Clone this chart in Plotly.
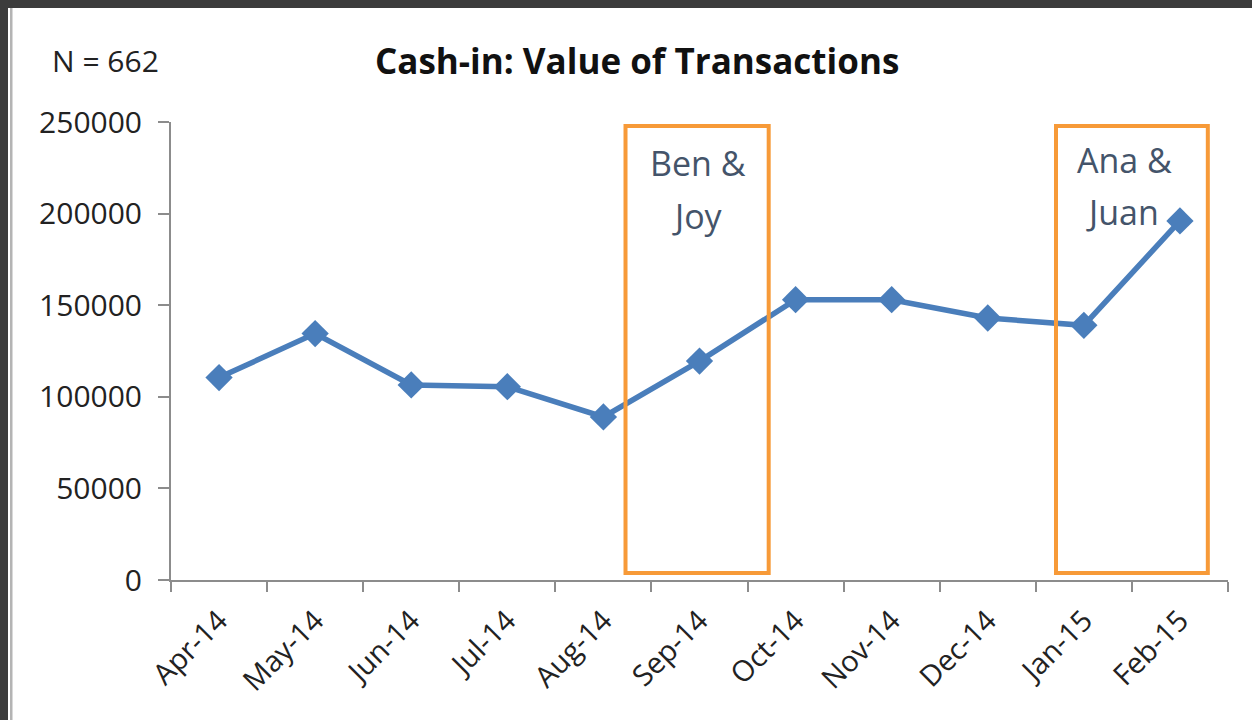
import plotly.graph_objects as go

months = ["Apr-14", "May-14", "Jun-14", "Jul-14", "Aug-14", "Sep-14",
          "Oct-14", "Nov-14", "Dec-14", "Jan-15", "Feb-15"]
values = [110500, 134500, 106500, 105500, 89000, 119500,
          153000, 153000, 143000, 139000, 196000]
y_ticks = [0, 50000, 100000, 150000, 200000, 250000]

W, H = 1252, 720
L, R, T, B = 171, 24, 122, 140
pw, ph = W - L - R, H - T - B

def px(x):
    return (x - L) / pw

def py(y):
    return (H - B - y) / ph

fig = go.Figure()
fig.add_trace(go.Scatter(
    x=months, y=values, mode="lines+markers",
    line=dict(color="#4A7EBB", width=5.5),
    marker=dict(symbol="diamond", size=21, color="#4A7EBB"),
    showlegend=False, cliponaxis=False,
))

axis_col = "#8C8C8C"
font_fam = "Open Sans, Lato, sans-serif"

fig.update_layout(
    width=W, height=H,
    margin=dict(l=L, r=R, t=T, b=B),
    paper_bgcolor="white", plot_bgcolor="white",
    font=dict(family=font_fam, color="#222222"),
    xaxis=dict(
        type="category", range=[-0.5, 10.5],
        showgrid=False, showline=True, linecolor=axis_col, linewidth=2,
        ticks="outside", tickson="boundaries", ticklen=10, tickwidth=2,
        tickcolor=axis_col, tickangle=-45, ticklabelstandoff=10,
        tickfont=dict(size=29, family=font_fam, color="#222222"),
    ),
    yaxis=dict(
        range=[0, 250000], tickvals=y_ticks,
        ticktext=[str(v) for v in y_ticks],
        showgrid=False, showline=True, linecolor=axis_col, linewidth=2,
        ticks="outside", ticklen=11, tickwidth=2, tickcolor=axis_col,
        zeroline=False, ticklabelstandoff=10,
        tickfont=dict(size=30, family=font_fam, color="#222222"),
    ),
)

# title and N
fig.add_annotation(text="<b>Cash-in: Value of Transactions</b>", xref="paper", yref="paper",
                   x=px(637), y=py(60), xanchor="center", yanchor="middle", showarrow=False,
                   font=dict(size=35, family=font_fam, color="#111111"))
fig.add_annotation(text="N = 662", xref="paper", yref="paper",
                   x=px(105), y=py(60), xanchor="center", yanchor="middle", showarrow=False,
                   font=dict(size=30, family=font_fam, color="#222222"))

# highlight boxes
box_col = "#F79A38"
for x0, x1 in [(4.23, 5.72), (8.71, 10.29)]:
    fig.add_shape(type="rect", xref="x", yref="y", x0=x0, x1=x1, y0=3800, y1=247800,
                  line=dict(color=box_col, width=4), fillcolor="rgba(0,0,0,0)", layer="above")

lab_col = "#44546A"
for text, xx, yy in [("Ben &amp;", 698, 163), ("Joy", 697, 216),
                     ("Ana &amp;", 1124, 160), ("Juan", 1122, 212)]:
    fig.add_annotation(text=text, xref="paper", yref="paper", x=px(xx), y=py(yy),
                       xanchor="center", yanchor="middle", showarrow=False,
                       font=dict(size=34, family=font_fam, color=lab_col))

# frame
fig.add_shape(type="rect", xref="paper", yref="paper", x0=px(0), x1=px(W), y0=py(0), y1=py(8),
              fillcolor="#3C3C3C", line=dict(width=0))
fig.add_shape(type="rect", xref="paper", yref="paper", x0=px(0), x1=px(8), y0=py(0), y1=py(H),
              fillcolor="#3C3C3C", line=dict(width=0))
fig.add_shape(type="rect", xref="paper", yref="paper", x0=px(10), x1=px(12.5), y0=py(8), y1=py(H),
              fillcolor="#B4B4B4", line=dict(width=0))

fig.write_html("out.html", config={"displayModeBar": False},
               post_script="document.body.style.margin='0';document.body.style.overflow='hidden';")
